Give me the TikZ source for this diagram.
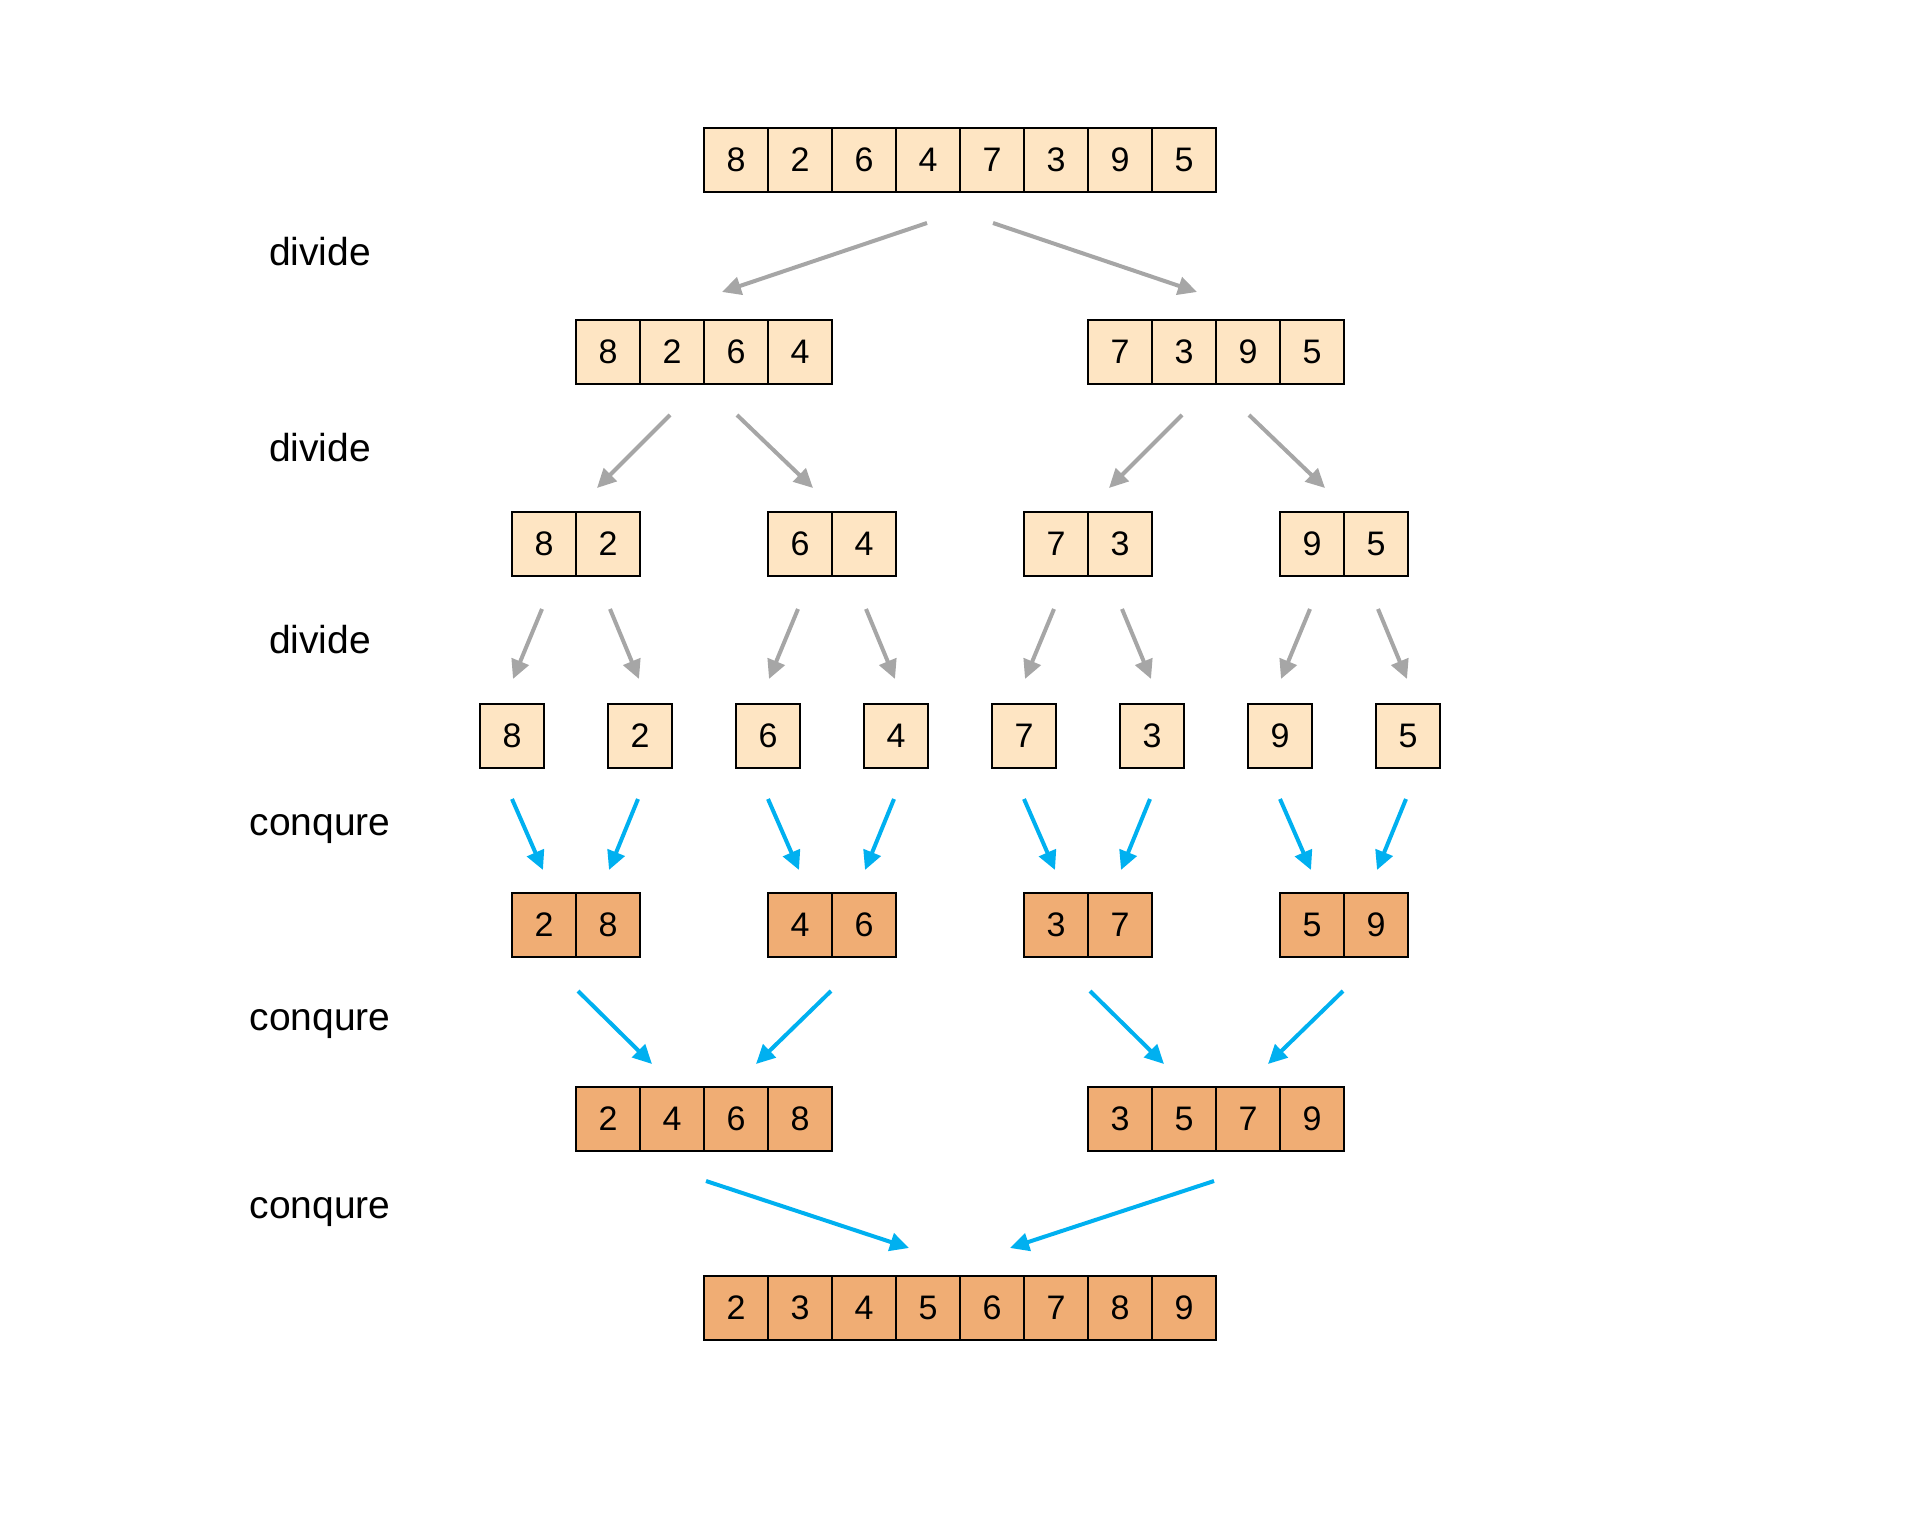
\documentclass[tikz,border=0pt]{standalone}
\usepackage{fontspec}
\setmainfont{Liberation Sans}
\usetikzlibrary{arrows.meta,calc}

\definecolor{cellpale}{RGB}{254,229,195}
\definecolor{cellorange}{RGB}{240,173,116}
\definecolor{splitgray}{RGB}{166,166,166}
\definecolor{mergeblue}{RGB}{0,176,240}

\begin{document}
\begin{tikzpicture}[
        x=1pt, y=-1pt,
        every node/.style={align=center},
        unsorted/.style={rectangle, draw, line width=2pt, minimum size=64pt, inner sep=0pt, fill=cellpale, font=\fontsize{34}{40}\selectfont},
        sorted/.style={unsorted, fill=cellorange},
        phase/.style={anchor=base, font=\fontsize{39}{46}\selectfont},
        splitarrow/.style={draw=splitgray, line width=4pt, -{Triangle[length=19pt,width=18pt]}},
        mergearrow/.style={draw=mergeblue, line width=4pt, -{Triangle[length=19pt,width=18pt]}}
    ]
    \useasboundingbox (0,0) rectangle (1920,1536);

    % Phase labels
    \node[phase] (div1) at (320,265) {divide};
    \node[phase] (div2) at (320,461) {divide};
    \node[phase] (div3) at (320,653) {divide};
    \node[phase] (con1) at (320,835) {conqure};
    \node[phase] (con2) at (320,1030) {conqure};
    \node[phase] (con3) at (320,1218) {conqure};

    % Divide rows
    \foreach \v [count=\i] in {8,2,6,4,7,3,9,5}
        \node[unsorted] (a\i) at (672+64*\i,160) {\v};
    \foreach \v/\x [count=\i] in {8/608,2/672,6/736,4/800,7/1120,3/1184,9/1248,5/1312}
        \node[unsorted] (b\i) at (\x,352) {\v};
    \foreach \v/\x [count=\i] in {8/544,2/608,6/800,4/864,7/1056,3/1120,9/1312,5/1376}
        \node[unsorted] (c\i) at (\x,544) {\v};
    \foreach \v [count=\i] in {8,2,6,4,7,3,9,5}
        \node[unsorted] (d\i) at (384+128*\i,736) {\v};

    % Conquer rows
    \foreach \v/\x [count=\i] in {2/544,8/608,4/800,6/864,3/1056,7/1120,5/1312,9/1376}
        \node[sorted] (e\i) at (\x,925) {\v};
    \foreach \v/\x [count=\i] in {2/608,4/672,6/736,8/800,3/1120,5/1184,7/1248,9/1312}
        \node[sorted] (f\i) at (\x,1119) {\v};
    \foreach \v [count=\i] in {2,3,4,5,6,7,8,9}
        \node[sorted] (g\i) at (672+64*\i,1308) {\v};

    % Divide arrows
    \draw[splitarrow] ($(a4.south)+(-1,30)$) -- ($(b3.north)+(-14,-27)$);
    \draw[splitarrow] ($(a5.south)+(1,30)$) -- ($(b6.north)+(13,-27)$);
    \foreach \l/\r in {2/3,6/7} {
        \draw[splitarrow] ($(b\l.south)+(-2,30)$) -- ($(c\l.north)+(-11,-23)$);
        \draw[splitarrow] ($(b\r.south)+(1,30)$) -- ($(c\r.north)+(13,-23)$);
    }
    \foreach \l/\r in {1/2,3/4,5/6,7/8} {
        \draw[splitarrow] ($(c\l.south)+(-2,32)$) -- ($(d\l.north)+(1,-24)$);
        \draw[splitarrow] ($(c\r.south)+(2,32)$) -- ($(d\r.north)+(-1,-24)$);
    }

    % Conquer arrows
    \foreach \l/\r in {1/2,3/4,5/6,7/8} {
        \draw[mergearrow] ($(d\l.south)+(0,30)$) -- ($(e\l.north)+(-1,-22)$);
        \draw[mergearrow] ($(d\r.south)+(-2,30)$) -- ($(e\r.north)+(1,-22)$);
    }
    \foreach \l/\r in {1/2,5/6}
        \draw[mergearrow] ($(e\l.south east)+(1,33)$) -- ($(f\r.north)+(-20,-22)$);
    \foreach \l in {3,7}
        \draw[mergearrow] ($(e\l.south east)+(-2,33)$) -- ($(f\l.north)+(20,-22)$);
    \draw[mergearrow] ($(f3.south)+(-30,29)$) -- ($(g4.north)+(-19,-27)$);
    \draw[mergearrow] ($(f6.south)+(30,29)$) -- ($(g5.north)+(18,-27)$);

\end{tikzpicture}
\end{document}
